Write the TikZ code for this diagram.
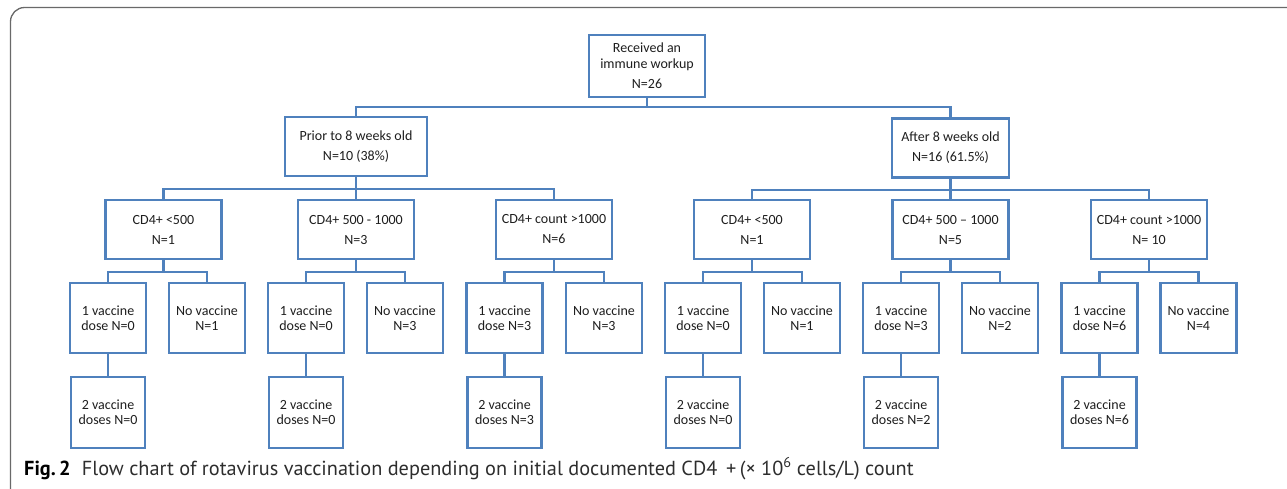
\documentclass[tikz,border=0pt]{standalone}
\usepackage{fontspec}
\setmainfont{Carlito}
\newfontfamily\capfont{PT Sans}
\definecolor{boxblue}{RGB}{79,129,189}
\definecolor{framegray}{RGB}{105,105,105}
\definecolor{txt}{RGB}{30,30,30}
\definecolor{capgray}{RGB}{45,45,45}
\tikzset{
  bx/.style={draw=boxblue, line width=2.3pt, fill=white, inner sep=0pt, align=center, text=txt, font=\fontsize{14}{20}\selectfont},
  topbox/.style={bx, minimum width=116pt, minimum height=62pt, font=\fontsize{14}{16}\selectfont},
  agebox/.style={bx, minimum height=59pt},
  l3/.style={bx, minimum width=116pt, minimum height=59pt},
  kid/.style={bx, minimum width=76pt, minimum height=70pt, font=\fontsize{14}{15}\selectfont},
  kidtwo/.style={kid, minimum width=74pt, minimum height=71pt},
  conn/.style={draw=boxblue, line width=2.3pt},
}
\begin{document}
\begin{tikzpicture}[x=1pt,y=-1pt]
\path[use as bounding box] (0,0) rectangle (1287,488);
\begin{scope}
  \clip (0,0) rectangle (1287,488);
  \draw[framegray, line width=1.3pt, rounded corners=14pt] (10.5,7.5) rectangle (1310,505);
\end{scope}

% level 1 and 2
\node[topbox] (root) at (647,66) {Received an\\immune workup\\[4pt]N=26};
\node[agebox, minimum width=142pt] (prior) at (356,146.5) {Prior to 8 weeks old\\N=10 (38\%)};
\node[agebox, minimum width=117pt] (after) at (950.5,148) {After 8 weeks old\\N=16 (61.5\%)};

% level 3
\node[l3] (ga) at (163.5,229.5) {CD4+ <500\\N=1};
\node[l3] (gb) at (356,229.5) {CD4+ 500 - 1000\\N=3};
\node[l3] (gc) at (554,229.5) {CD4+ count >1000\\N=6};
\node[l3] (gd) at (752,229.5) {CD4+ <500\\N=1};
\node[l3] (ge) at (950.5,229.5) {CD4+ 500 -- 1000\\N=5};
\node[l3] (gf) at (1149,229.5) {CD4+ count >1000\\N= 10};

% level 4: one dose / no vaccine
\node[kid] (oa) at (108,318) {1 vaccine\\dose N=0};
\node[kid] (na) at (207,318) {No vaccine\\N=1};
\node[kid] (ob) at (306,318) {1 vaccine\\dose N=0};
\node[kid] (nb) at (405,318) {No vaccine\\N=3};
\node[kid] (oc) at (504.5,318) {1 vaccine\\dose N=3};
\node[kid] (nc) at (604,318) {No vaccine\\N=3};
\node[kid] (od) at (703,318) {1 vaccine\\dose N=0};
\node[kid] (nd) at (802,318) {No vaccine\\N=1};
\node[kid] (oe) at (901,318) {1 vaccine\\dose N=3};
\node[kid] (ne) at (1000,318) {No vaccine\\N=2};
\node[kid] (of) at (1099.5,318) {1 vaccine\\dose N=6};
\node[kid] (nf) at (1198.5,318) {No vaccine\\N=4};

% level 5: two doses
\node[kidtwo] (ta) at (108,412.5) {2 vaccine\\doses N=0};
\node[kidtwo] (tb) at (306,412.5) {2 vaccine\\doses N=0};
\node[kidtwo] (tc) at (504.5,412.5) {2 vaccine\\doses N=3};
\node[kidtwo] (td) at (703,412.5) {2 vaccine\\doses N=0};
\node[kidtwo] (te) at (901,412.5) {2 vaccine\\doses N=2};
\node[kidtwo] (tf) at (1099.5,412.5) {2 vaccine\\doses N=6};

% connectors
\draw[conn] (root.south) -- ++(0,8.5) -| (prior.north);
\draw[conn] (root.south) -- ++(0,8.5) -| (after.north);
\foreach \g in {ga,gb,gc} \draw[conn] (prior.south) -- ++(0,11.5) -| (\g.north);
\foreach \g in {gd,ge,gf} \draw[conn] (after.south) -- ++(0,11) -| (\g.north);
\foreach \g/\o/\n in {ga/oa/na,gb/ob/nb,gc/oc/nc,gd/od/nd,ge/oe/ne,gf/of/nf}{
  \draw[conn] (\g.south) -- ++(0,12) -| (\o.north);
  \draw[conn] (\g.south) -- ++(0,12) -| (\n.north);
}
\foreach \o/\t in {oa/ta,ob/tb,oc/tc,od/td,oe/te,of/tf} \draw[conn] (\o.south) -- (\t.north);

% caption
\node[anchor=base west, inner sep=0pt, text=capgray, font=\capfont\fontsize{20.3}{22}\selectfont] (cap) at (24,475)
  {\textbf{\color{black}Fig.\,2}\hspace{0.55em}Flow chart of rotavirus vaccination depending on initial documented CD4 \,+\,(× 10\textsuperscript{6} cells/L) count};
\end{tikzpicture}
\end{document}
